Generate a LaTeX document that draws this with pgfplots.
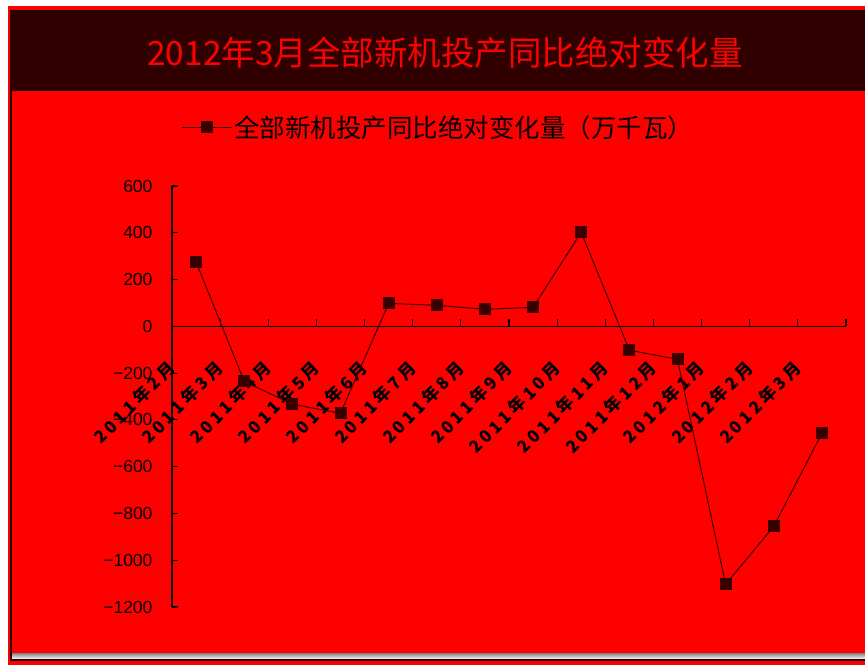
\documentclass[border=0pt]{standalone}
\usepackage{fontspec}
\setmainfont{Liberation Sans}
\newfontfamily\cjk{Noto Sans CJK SC}
\newfontfamily\cjkx[LetterSpace=20]{Noto Sans CJK SC}
\usepackage{pgfplots}
\pgfplotsset{compat=1.18}
\definecolor{bgred}{HTML}{FF0000}
\definecolor{band}{HTML}{300000}
\definecolor{shade}{HTML}{C80000}
\definecolor{ser}{HTML}{3A0000}
\begin{document}
\begin{tikzpicture}
\useasboundingbox (0,0) rectangle (865pt,-665pt);
\fill[white] (0,0) rectangle (865pt,-665pt);
\fill[bgred] (8pt,-6pt) rectangle (865pt,-665pt);
\fill[shade] (11pt,-653pt) rectangle (866pt,-659pt);
\fill[band] (11pt,-12pt) rectangle (866pt,-91pt);
\draw[band!80!black, line width=2pt] (11pt,-11pt) rectangle (868pt,-660pt);
\node[text=bgred, font=\cjk\fontsize{33.5}{33.5}\selectfont] at (445pt,-53pt) {2012年3月全部新机投产同比绝对变化量};
\begin{axis}[
  at={(172pt,-607pt)}, anchor=south west,
  scale only axis, width=674pt, height=421pt,
  xmin=-0.5, xmax=13.5, ymin=-1200, ymax=600,
  axis x line*=middle, axis y line*=left,
  axis line style={black, line width=1.2pt},
  xtick={0,...,13},
  xticklabels={2011年2月,2011年3月,2011年4月,2011年5月,2011年6月,2011年7月,2011年8月,2011年9月,2011年10月,2011年11月,2011年12月,2012年1月,2012年2月,2012年3月},
  minor xtick={0.5,1.5,...,13.5},
  major x tick style={draw=none},
  ytick={-1200,-1000,...,600},
  yticklabels={−1200,−1000,−800,−600,−400,−200,0,200,400,600},
  tick align=inside, major tick length=6pt, minor tick length=7pt,
  tick style={black, line width=1.2pt},
  xticklabel style={font=\cjkx\bfseries\fontsize{17}{17}\selectfont, xshift=-30pt, yshift=-28pt, rotate=45, anchor=north east},
  yticklabel style={font=\fontsize{17.5}{17.5}\selectfont, xshift=-16pt},
  legend style={at={(0.395,1.14)}, anchor=center, draw=none, fill=none,
    font=\cjk\fontsize{25.5}{25.5}\selectfont},
  legend image code/.code={\draw[mark repeat=2,mark phase=2] plot coordinates {(0pt,0pt) (25pt,0pt) (50pt,0pt)};},
  clip=false,
]
\addplot[ser, line width=1pt, mark=square*, mark size=5.5pt, mark options={fill=ser, draw=ser}]
  coordinates {(0,275) (1,-235) (2,-333) (3,-372) (4,98) (5,90) (6,73) (7,81) (8,402) (9,-102) (10,-141) (11,-1103) (12,-855) (13,-457)};
\addlegendentry{全部新机投产同比绝对变化量（万千瓦）}
\end{axis}
\end{tikzpicture}
\end{document}
